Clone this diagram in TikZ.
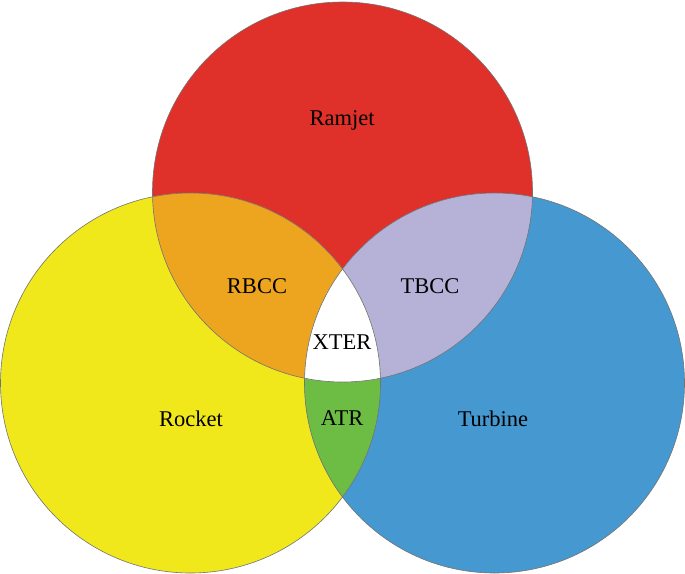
\documentclass[tikz,border=0pt]{standalone}
\usepackage{fontspec}
\setmainfont{Liberation Serif}
\definecolor{cRed}{HTML}{E0302A}
\definecolor{cYellow}{HTML}{F0E81A}
\definecolor{cBlue}{HTML}{4699D0}
\definecolor{cOrange}{HTML}{EDA520}
\definecolor{cLav}{HTML}{B6B1D6}
\definecolor{cGreen}{HTML}{6DBD45}
\begin{document}
\begin{tikzpicture}[x=1pt,y=-1pt,
  lbl/.style={font=\fontsize{22.5}{27}\selectfont, text=black, inner sep=0pt},
  edge/.style={draw=black!55, line width=0.6pt}]
\useasboundingbox (0,0) rectangle (685,573);
\def\R{190}
\coordinate (cr) at (342.5,192);
\coordinate (cy) at (190.5,383);
\coordinate (cb) at (494.5,383);
% base fills
\fill[cRed] (cr) circle (\R);
\fill[cYellow] (cy) circle (\R);
\fill[cBlue] (cb) circle (\R);
% pairwise intersections
\begin{scope}
  \clip (cr) circle (\R);
  \fill[cOrange] (cy) circle (\R);
\end{scope}
\begin{scope}
  \clip (cr) circle (\R);
  \fill[cLav] (cb) circle (\R);
\end{scope}
\begin{scope}
  \clip (cy) circle (\R);
  \fill[cGreen] (cb) circle (\R);
\end{scope}
% triple intersection
\begin{scope}
  \clip (cr) circle (\R);
  \clip (cy) circle (\R);
  \fill[white] (cb) circle (\R);
\end{scope}
% outlines
\draw[edge] (cr) circle (\R);
\draw[edge] (cy) circle (\R);
\draw[edge] (cb) circle (\R);
% labels
\node[lbl] (ramjet) at (342,120) {Ramjet};
\node[lbl] (rbcc) at (257,286) {RBCC};
\node[lbl] (tbcc) at (430,286) {TBCC};
\node[lbl] (xter) at (342,342) {XTER};
\node[lbl] (atr) at (342,418) {ATR};
\node[lbl] (rocket) at (191,419) {Rocket};
\node[lbl] (turbine) at (493,419) {Turbine};
\end{tikzpicture}
\end{document}
